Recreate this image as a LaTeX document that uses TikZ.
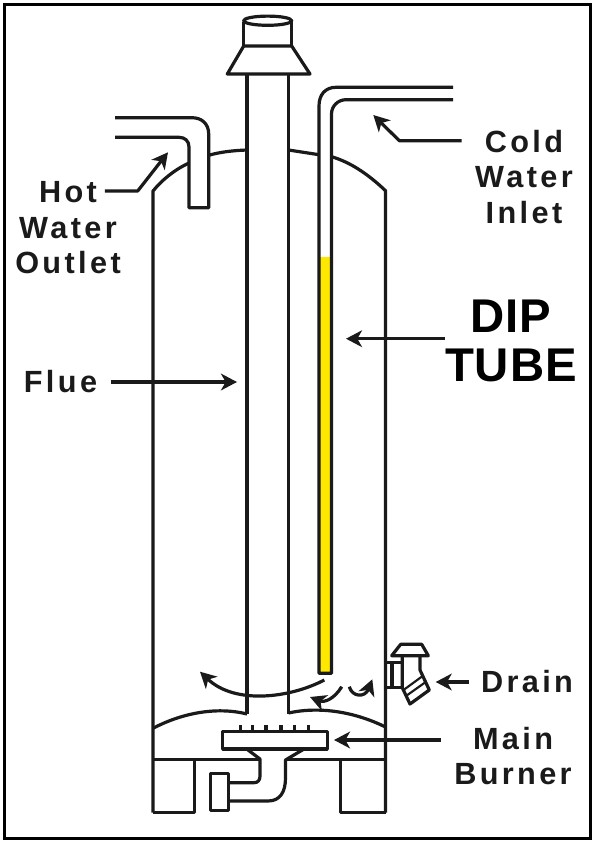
\documentclass[tikz,border=0pt]{standalone}
\usepackage{fontspec}
\usepackage{xcolor}
\usetikzlibrary{arrows.meta, calc}
\setmainfont{Liberation Sans}
\newfontfamily\labelfont{Liberation Sans}[LetterSpace=11]
\newfontfamily\bigfont{Liberation Sans}[LetterSpace=2]
\definecolor{tubeyellow}{HTML}{FFE800}
\definecolor{inkgrey}{HTML}{1A1A1A}
\begin{document}
\begin{tikzpicture}[x=0.75pt, y=-0.75pt,
  wall/.style={draw=inkgrey, line width=2.4pt, line join=round},
  arrow/.style={-{Stealth[length=12pt, width=12.5pt, inset=3.5pt]}, line width=2.4pt, draw=inkgrey, line join=round},
  lbl/.style={font=\labelfont\bfseries\fontsize{23}{26.6}\selectfont, text=inkgrey, align=center, inner sep=0pt},
  biglbl/.style={font=\bigfont\bfseries\fontsize{35.5}{36.8}\selectfont, text=black, align=center, inner sep=0pt}]

  \useasboundingbox (0,0) rectangle (594,844);
  \fill[white] (0,0) rectangle (594,844);
  \draw[black, line width=2.6pt] (4.5,4.5) rectangle (590.5,838.5);

  \fill[tubeyellow] (319,256.7) rectangle (331.5,673);

  \draw[wall] (153,812.7) -- (153,191) .. controls (162,180) and (174,170) .. (189,163);
  \draw[wall] (208.7,155.3) .. controls (220,152) and (233,150.5) .. (247,150);
  \draw[wall] (288.5,150) -- (319,154.7);
  \draw[wall] (331.5,156.7) .. controls (350,162) and (368,174) .. (385.5,190.7) -- (385.5,812.7);

  \draw[wall] (247,74) -- (247,714);
  \draw[wall] (288.5,74) -- (288.5,714);
  \draw[wall] (227.3,74) -- (310,74) -- (291.7,46) -- (243.7,46) -- cycle;
  \draw[wall] (243.7,46) -- (243.7,22) (291.7,46) -- (291.7,20);
  \draw[wall] (267.7,20.7) ellipse [x radius=24, y radius=4.6];

  \draw[wall] (115,117.7) -- (192,117.7) .. controls (202,117.7) and (208.7,124) .. (208.7,134)
    -- (208.7,207.7) -- (189,207.7) -- (189,147) .. controls (189,141) and (185,137.3) .. (179,137.3) -- (115,137.3);

  \draw[wall] (453,87.3) -- (336,87.3) .. controls (325,87.3) and (319,95) .. (319,106) -- (319,673.3)
    -- (331.5,673.3) -- (331.5,114) .. controls (331.5,106) and (338,99.7) .. (346,99.7) -- (453,99.7);

  \draw[wall] (153,728.3) .. controls (180,714) and (215,706) .. (247,714);
  \draw[wall] (288.5,713) .. controls (320,706) and (355,712) .. (385.5,727);

  \draw[wall] (153,759.3) -- (259,759.3);
  \draw[wall] (286,759.3) -- (385.5,759.3);
  \draw[wall] (194.3,759.3) -- (194.3,812.7) -- (153,812.7);
  \draw[wall] (340.7,759.3) -- (340.7,812.7) -- (385.5,812.7);

  \draw[wall] (222.7,731.7) rectangle (327.3,749);
  \foreach \jetx in {240.7,252.7,266,281,294.7,308.3}
    \draw[wall] (\jetx,725) -- (\jetx,731.7);

  \draw[wall] (246.7,749) -- (260,759) -- (260,776) .. controls (260,780) and (258,782.7) .. (254,782.7) -- (228.3,782.7);
  \draw[wall] (304,749) -- (285.5,760) -- (285.5,778) .. controls (285.5,792) and (280,801) .. (268,801) -- (228.3,801);
  \draw[wall] (210.7,773.3) rectangle (228.3,810.7);

  \draw[wall] (386,662.3) -- (402.3,662.3) (386,687.7) -- (402.3,687.7) (392,662.3) -- (392,687.7);
  \draw[wall] (391.7,655.7) -- (400.7,644.3) -- (421.7,644.3) -- (428.3,655.7) -- cycle;
  \draw[wall] (402.3,655.7) -- (402.3,687.7) -- (410,704) -- (429.3,690) -- (420,670) -- (420,655.7);
  \draw[wall, line width=1.6pt] (406,696) -- (425,682.5) (403.5,690) -- (422,676.5);

  \node[lbl] (hotlabel) at (68,228) {Hot\\Water\\Outlet};
  \node[lbl] (coldlabel) at (524,177) {Cold\\Water\\Inlet};
  \node[lbl] (fluelabel) at (60.5,382) {Flue};
  \node[lbl] (drainlabel) at (527,682) {Drain};
  \node[lbl] (burnerlabel) at (513,756) {Main\\Burner};
  \node[biglbl] (diplabel) at (511,341) {DIP\\TUBE};

  \coordinate (hotbend) at (137.7,191);
  \coordinate (hottip) at (168,152.3);
  \coordinate (coldbend) at (399.3,140.7);
  \coordinate (coldtip) at (373.3,115);
  \coordinate (fluetip) at (237,382);
  \coordinate (diptip) at (346,338.7);
  \coordinate (draintip) at (435.7,682);
  \coordinate (burnertip) at (334,740);
  \coordinate (flowa) at (324.3,680);
  \coordinate (flowatip) at (200,671.7);
  \coordinate (flowb) at (341.7,686.7);
  \coordinate (flowbtip) at (310,697);
  \coordinate (flowc) at (349.3,686.7);
  \coordinate (flowctip) at (372.3,679.3);

  \draw[arrow, shorten <=-12pt] (hotlabel.east |- hotbend) -- (hotbend) -- (hottip);
  \draw[arrow, shorten <=10pt] (coldlabel.west |- coldbend) -- (coldbend) -- (coldtip);
  \draw[arrow, shorten <=10pt] (fluelabel.east) -- (fluetip);
  \draw[arrow] (diplabel.west |- diptip) -- (diptip);
  \draw[arrow, shorten <=9pt] (drainlabel.west) -- (draintip);
  \draw[arrow, shorten <=10pt] (burnerlabel.west |- burnertip) -- (burnertip);
  \draw[arrow] (flowa) .. controls (290,698) and (235,705) .. (flowatip);
  \draw[arrow] (flowb) .. controls (335,698) and (325,703) .. (flowbtip);
  \draw[arrow] (flowc) .. controls (352,697) and (365,698) .. (flowctip);
\end{tikzpicture}
\end{document}
